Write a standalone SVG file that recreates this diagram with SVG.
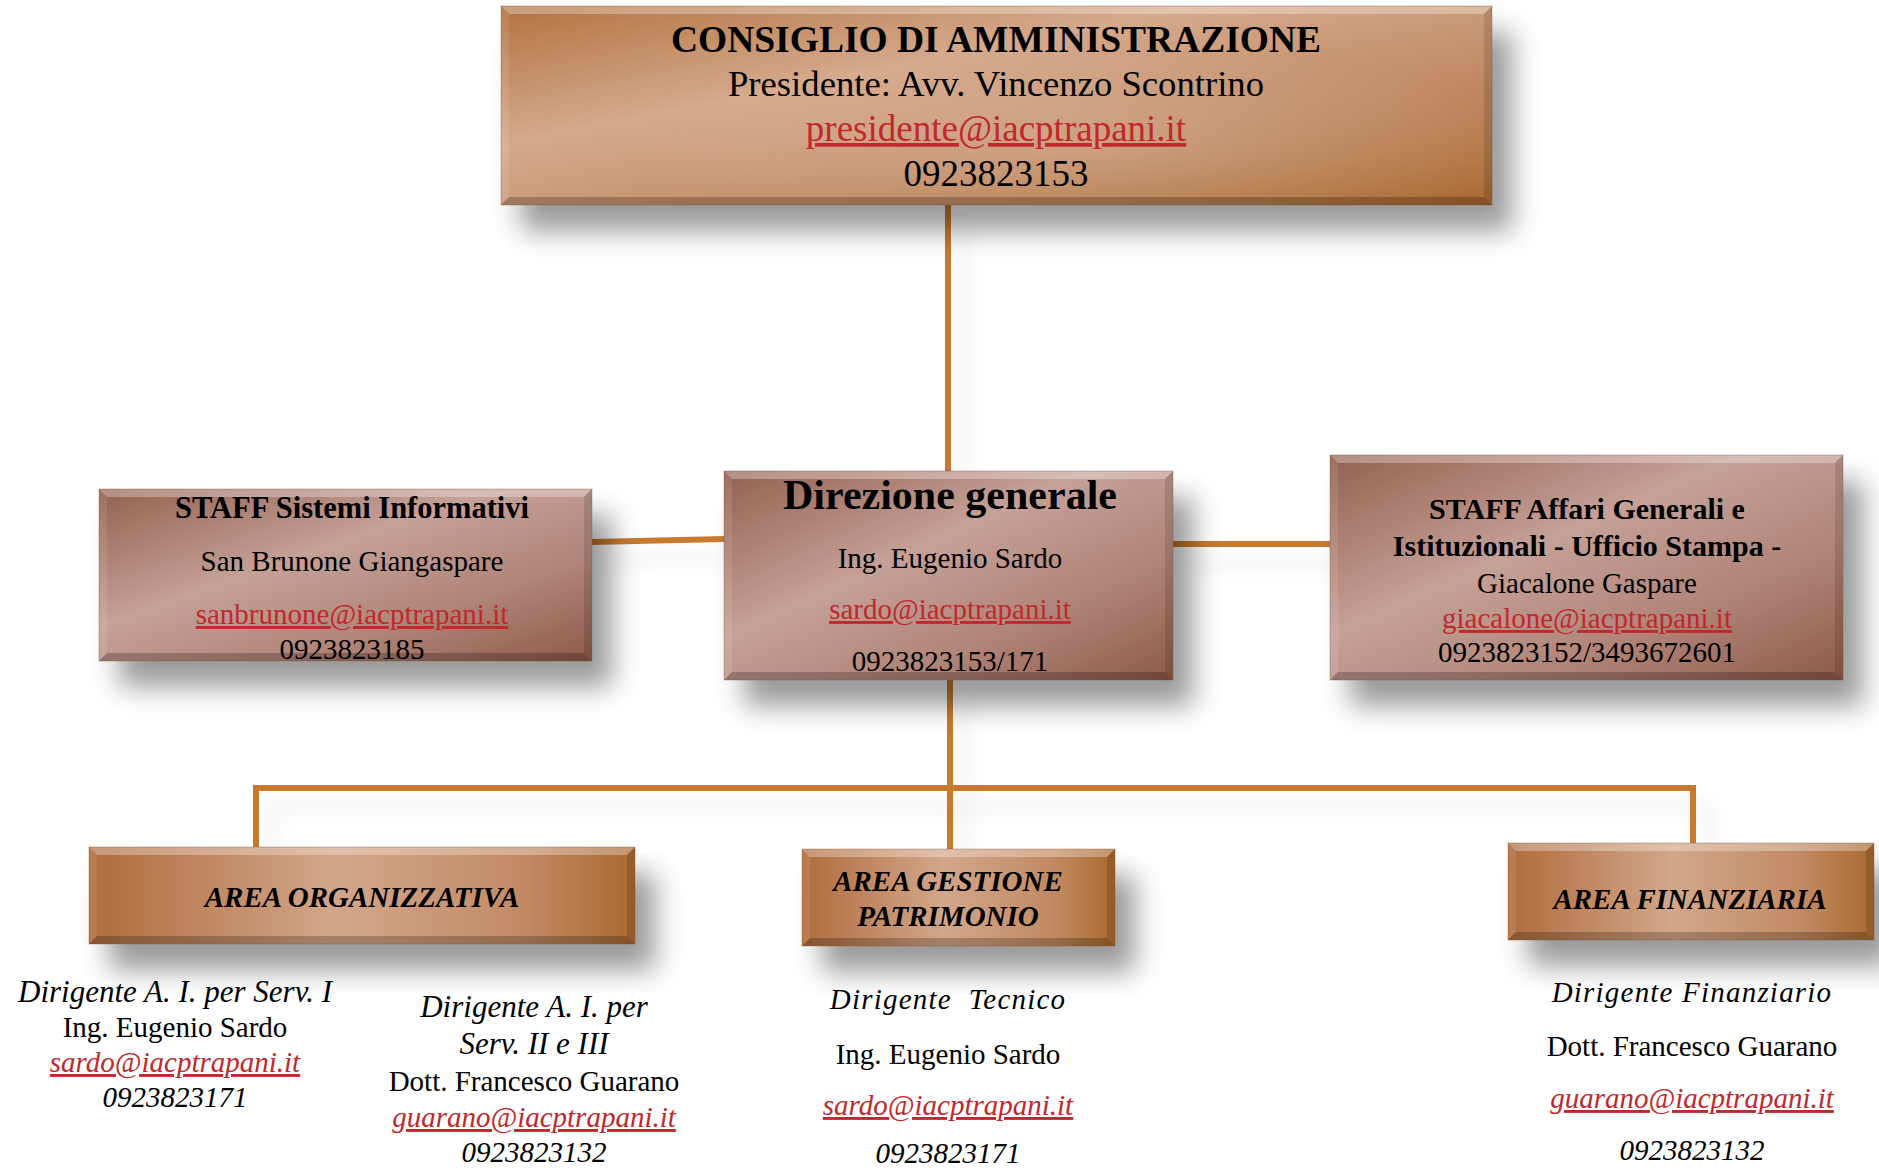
<svg xmlns="http://www.w3.org/2000/svg" width="1879" height="1168" viewBox="0 0 1879 1168">
<defs>
<linearGradient id="copper" x1="0" y1="0" x2="1" y2="1">
<stop offset="0" stop-color="#b3723f"/>
<stop offset="0.35" stop-color="#d5a98c"/>
<stop offset="0.65" stop-color="#c38c66"/>
<stop offset="1" stop-color="#a8672f"/>
</linearGradient>
<linearGradient id="copperH" x1="0" y1="0" x2="1" y2="0">
<stop offset="0" stop-color="#b06c3c"/>
<stop offset="0.45" stop-color="#d3a68a"/>
<stop offset="0.8" stop-color="#c28a63"/>
<stop offset="1" stop-color="#a9692f"/>
</linearGradient>
<linearGradient id="rose" x1="0" y1="0" x2="1" y2="1">
<stop offset="0" stop-color="#93604f"/>
<stop offset="0.4" stop-color="#c5a198"/>
<stop offset="0.7" stop-color="#b08478"/>
<stop offset="1" stop-color="#8f5a4a"/>
</linearGradient>
<radialGradient id="shine" cx="0.6" cy="0.7" r="0.5">
<stop offset="0" stop-color="#ffffff" stop-opacity="0.18"/>
<stop offset="1" stop-color="#ffffff" stop-opacity="0"/>
</radialGradient>
<filter id="shadow" x="-10%" y="-20%" width="130%" height="170%">
<feGaussianBlur in="SourceAlpha" stdDeviation="14"/>
<feOffset dx="20" dy="26" result="b"/>
<feComponentTransfer><feFuncA type="linear" slope="0.4"/></feComponentTransfer>
<feMerge><feMergeNode/><feMergeNode in="SourceGraphic"/></feMerge>
</filter>
<filter id="lshadow" x="-10%" y="-50%" width="130%" height="300%">
<feGaussianBlur in="SourceAlpha" stdDeviation="10"/>
<feOffset dx="14" dy="18" result="b"/>
<feComponentTransfer><feFuncA type="linear" slope="0.1"/></feComponentTransfer>
<feMerge><feMergeNode/><feMergeNode in="SourceGraphic"/></feMerge>
</filter>
</defs>
<style>
.t{font-family:"Liberation Serif","Times New Roman",serif;fill:#000;text-anchor:middle}
.b{font-weight:bold}
.i{font-style:italic}
.ls{letter-spacing:1.2px}
.lk{fill:#c0282d;text-decoration:underline}
.hl{fill:#ffffff;opacity:0.3}
.hs{fill:#ffffff;opacity:0.1}
.dk{fill:#000000;opacity:0.22}
.ds{fill:#000000;opacity:0.12}
.edge{fill:none;stroke:#7a4a30;stroke-opacity:0.35;stroke-width:1}
.con{fill:none;stroke:#c77a2f;stroke-width:6}
</style>
<rect width="1879" height="1168" fill="#ffffff"/>

<g id="connectors" filter="url(#lshadow)">
<path class="con" d="M948 205 V471"/>
<path class="con" d="M592 542 L724 539"/>
<path class="con" d="M1173 544 H1330"/>
<path class="con" d="M950 680 V849"/>
<path class="con" d="M256 788 H1693"/>
<path class="con" d="M256 785 V847"/>
<path class="con" d="M1693 785 V843"/>
</g>

<g id="consiglio">
<g filter="url(#shadow)">
<rect x="501" y="6" width="991" height="199" fill="url(#copper)"/>
</g>
<rect x="501" y="6" width="991" height="199" fill="url(#shine)"/>
<polygon class="hl" points="501,6 1492,6 1484,14 509,14"/>
<polygon class="dk" points="501,205 1492,205 1484,197 509,197"/>
<polygon class="hs" points="501,6 509,14 509,197 501,205"/>
<polygon class="ds" points="1492,6 1484,14 1484,197 1492,205"/>
<rect class="edge" x="501" y="6" width="991" height="199"/>
<text class="t b" x="996" y="52" font-size="37.5">CONSIGLIO DI AMMINISTRAZIONE</text>
<text class="t" x="996" y="96" font-size="36.7">Presidente: Avv. Vincenzo Scontrino</text>
<text class="t lk" x="996" y="141" font-size="37">presidente@iacptrapani.it</text>
<text class="t" x="996" y="186" font-size="37">0923823153</text>
</g>

<g id="direzione">
<g filter="url(#shadow)">
<rect x="724" y="471" width="449" height="209" fill="url(#rose)"/>
</g>
<polygon class="hl" points="724,471 1173,471 1165,479 732,479"/>
<polygon class="dk" points="724,680 1173,680 1165,672 732,672"/>
<polygon class="hs" points="724,471 732,479 732,672 724,680"/>
<polygon class="ds" points="1173,471 1165,479 1165,672 1173,680"/>
<rect class="edge" x="724" y="471" width="449" height="209"/>
<text class="t b" x="950" y="509" font-size="42">Direzione generale</text>
<text class="t" x="950" y="568" font-size="29">Ing. Eugenio Sardo</text>
<text class="t lk" x="950" y="619" font-size="29">sardo@iacptrapani.it</text>
<text class="t" x="950" y="671" font-size="29">0923823153/171</text>
</g>

<g id="staff-sistemi">
<g filter="url(#shadow)">
<rect x="99" y="489" width="493" height="172" fill="url(#rose)"/>
</g>
<polygon class="hl" points="99,489 592,489 584,497 107,497"/>
<polygon class="dk" points="99,661 592,661 584,653 107,653"/>
<polygon class="hs" points="99,489 107,497 107,653 99,661"/>
<polygon class="ds" points="592,489 584,497 584,653 592,661"/>
<rect class="edge" x="99" y="489" width="493" height="172"/>
<text class="t b" x="352" y="518" font-size="30.5">STAFF Sistemi Informativi</text>
<text class="t" x="352" y="571" font-size="29">San Brunone Giangaspare</text>
<text class="t lk" x="352" y="624" font-size="29">sanbrunone@iacptrapani.it</text>
<text class="t" x="352" y="659" font-size="29">0923823185</text>
</g>

<g id="staff-affari">
<g filter="url(#shadow)">
<rect x="1330" y="455" width="513" height="225" fill="url(#rose)"/>
</g>
<polygon class="hl" points="1330,455 1843,455 1835,463 1338,463"/>
<polygon class="dk" points="1330,680 1843,680 1835,672 1338,672"/>
<polygon class="hs" points="1330,455 1338,463 1338,672 1330,680"/>
<polygon class="ds" points="1843,455 1835,463 1835,672 1843,680"/>
<rect class="edge" x="1330" y="455" width="513" height="225"/>
<text class="t b" x="1587" y="519" font-size="30">STAFF Affari Generali e</text>
<text class="t b" x="1587" y="556" font-size="30">Istituzionali - Ufficio Stampa -</text>
<text class="t" x="1587" y="593" font-size="29">Giacalone Gaspare</text>
<text class="t lk" x="1587" y="628" font-size="29">giacalone@iacptrapani.it</text>
<text class="t" x="1587" y="662" font-size="29">0923823152/3493672601</text>
</g>

<g id="area-organizzativa">
<g filter="url(#shadow)">
<rect x="89" y="847" width="546" height="97" fill="url(#copperH)"/>
</g>
<polygon class="hl" points="89,847 635,847 627,855 97,855"/>
<polygon class="dk" points="89,944 635,944 627,936 97,936"/>
<polygon class="hs" points="89,847 97,855 97,936 89,944"/>
<polygon class="ds" points="635,847 627,855 627,936 635,944"/>
<rect class="edge" x="89" y="847" width="546" height="97"/>
<text class="t b i" x="362" y="907" font-size="29">AREA ORGANIZZATIVA</text>
</g>

<g id="area-gestione">
<g filter="url(#shadow)">
<rect x="802" y="849" width="313" height="97" fill="url(#copperH)"/>
</g>
<polygon class="hl" points="802,849 1115,849 1107,857 810,857"/>
<polygon class="dk" points="802,946 1115,946 1107,938 810,938"/>
<polygon class="hs" points="802,849 810,857 810,938 802,946"/>
<polygon class="ds" points="1115,849 1107,857 1107,938 1115,946"/>
<rect class="edge" x="802" y="849" width="313" height="97"/>
<text class="t b i" x="948" y="891" font-size="29">AREA GESTIONE</text>
<text class="t b i" x="948" y="926" font-size="29">PATRIMONIO</text>
</g>

<g id="area-finanziaria">
<g filter="url(#shadow)">
<rect x="1508" y="843" width="366" height="97" fill="url(#copperH)"/>
</g>
<polygon class="hl" points="1508,843 1874,843 1866,851 1516,851"/>
<polygon class="dk" points="1508,940 1874,940 1866,932 1516,932"/>
<polygon class="hs" points="1508,843 1516,851 1516,932 1508,940"/>
<polygon class="ds" points="1874,843 1866,851 1866,932 1874,940"/>
<rect class="edge" x="1508" y="843" width="366" height="97"/>
<text class="t b i" x="1690" y="909" font-size="29">AREA FINANZIARIA</text>
</g>

<g id="dirigente-serv-i">
<text class="t i" x="175" y="1002" font-size="31">Dirigente A. I. per Serv. I</text>
<text class="t" x="175" y="1037" font-size="29">Ing. Eugenio Sardo</text>
<text class="t i lk" x="175" y="1072" font-size="29">sardo@iacptrapani.it</text>
<text class="t i" x="175" y="1107" font-size="29">0923823171</text>
</g>

<g id="dirigente-serv-ii-iii">
<text class="t i" x="534" y="1017" font-size="31">Dirigente A. I. per</text>
<text class="t i" x="534" y="1054" font-size="31">Serv. II e III</text>
<text class="t" x="534" y="1091" font-size="29">Dott. Francesco Guarano</text>
<text class="t i lk" x="534" y="1127" font-size="29">guarano@iacptrapani.it</text>
<text class="t i" x="534" y="1162" font-size="29">0923823132</text>
</g>

<g id="dirigente-tecnico">
<text class="t i ls" x="948" y="1009" font-size="29" xml:space="preserve">Dirigente  Tecnico</text>
<text class="t" x="948" y="1064" font-size="29">Ing. Eugenio Sardo</text>
<text class="t i lk" x="948" y="1115" font-size="29">sardo@iacptrapani.it</text>
<text class="t i" x="948" y="1163" font-size="29">0923823171</text>
</g>

<g id="dirigente-finanziario">
<text class="t i ls" x="1692" y="1002" font-size="29">Dirigente Finanziario</text>
<text class="t" x="1692" y="1056" font-size="29">Dott. Francesco Guarano</text>
<text class="t i lk" x="1692" y="1108" font-size="29">guarano@iacptrapani.it</text>
<text class="t i" x="1692" y="1160" font-size="29">0923823132</text>
</g>
</svg>
